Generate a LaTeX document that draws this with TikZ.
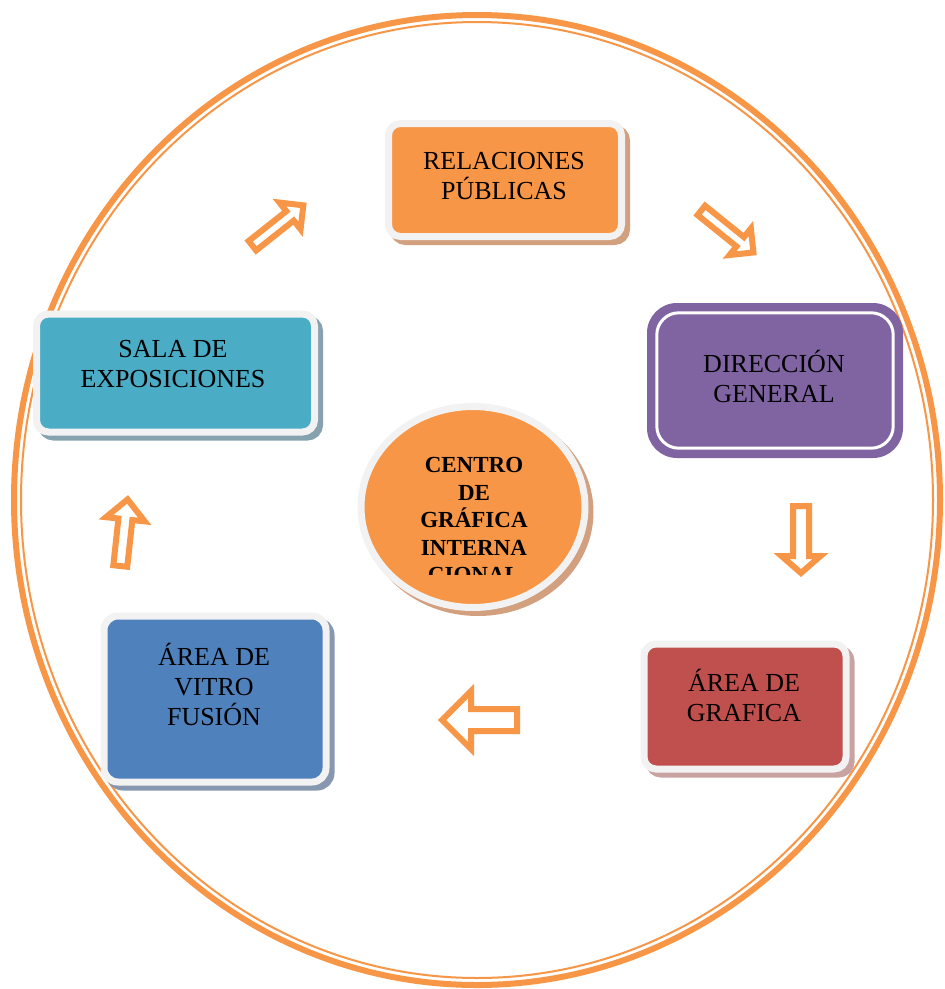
\documentclass[tikz,border=0pt]{standalone}
\usepackage{fontspec}
\setmainfont{Liberation Serif}
\usetikzlibrary{shapes.geometric}
\definecolor{orangeA}{HTML}{F79646}
\definecolor{purpleA}{HTML}{8064A2}
\definecolor{tealA}{HTML}{4BACC6}
\definecolor{blueA}{HTML}{4F81BD}
\definecolor{redA}{HTML}{C0504D}
\definecolor{frameG}{HTML}{F2F2F2}
\definecolor{shOrange}{HTML}{D2A07E}
\definecolor{shTeal}{HTML}{86A2AE}
\definecolor{shBlue}{HTML}{8797B0}
\definecolor{shRed}{HTML}{C9A3A2}
% outlined block arrow: x, y (tail centre), angle, length, shaft half-width, head half-width, head length
\newcommand{\blockarrow}[7]{%
  \draw[arrowline, shift={(#1,#2)}, rotate=#3]
    (0,#5) -- ({#4-#7},#5) -- ({#4-#7},#6) -- (#4,0) -- ({#4-#7},-#6)
    -- ({#4-#7},-#5) -- (0,-#5) -- cycle;}
\begin{document}
\begin{tikzpicture}[x=1pt,y=-1pt,
  ring/.style={draw=orangeA},
  card/.style={rectangle, rounded corners=#1, draw=frameG, line width=7pt, inner sep=0pt},
  shadowed/.style={preaction={draw=#1, fill=#1, transform canvas={xshift=5pt,yshift=-5pt}}},
  labeltext/.style={align=center, inner sep=0pt, font=\fontsize{26}{30}\selectfont},
  centretext/.style={align=center, inner sep=0pt, font=\bfseries\fontsize{23}{27.5}\selectfont},
  arrowline/.style={draw=orangeA, line width=6pt, fill=white, line join=miter}]
\useasboundingbox (0,0) rectangle (945,989);
\fill[white] (0,0) rectangle (945,989);

% outer double ring
\draw[ring, line width=6pt] (477,500) ellipse [x radius=463pt, y radius=485pt];
\draw[ring, line width=2pt] (477,500) ellipse [x radius=456pt, y radius=478pt];

% boxes
\node[card=12pt, fill=orangeA, shadowed=shOrange, minimum width=233pt, minimum height=113pt] (rp) at (505,180) {};
\node[labeltext] (rp-t) at (504,176) {RELACIONES\\PÚBLICAS};

\node[rectangle, rounded corners=30pt, fill=purpleA, minimum width=256pt, minimum height=155pt] (dg) at (775,380.5) {};
\draw[white, line width=3pt, rounded corners=22pt] ([shift={(10,10)}]dg.north west) rectangle ([shift={(-10,-10)}]dg.south east);
\node[labeltext] (dg-t) at (774,376) {DIRECCIÓN\\GENERAL};

\node[card=12pt, fill=tealA, shadowed=shTeal, minimum width=278pt, minimum height=118pt] (se) at (175.5,373) {};
\node[labeltext] (se-t) at (173,364.5) {SALA DE\\EXPOSICIONES};

\node[card=14pt, fill=blueA, shadowed=shBlue, minimum width=222pt, minimum height=166pt] (vf) at (215,699) {};
\node[labeltext] (vf-t) at (214,684.5) {ÁREA DE\\VITRO\\FUSIÓN};

\node[card=12pt, fill=redA, shadowed=shRed, minimum width=202pt, minimum height=125pt] (ag) at (745,706.5) {};
\node[labeltext] (ag-t) at (744,695) {ÁREA DE\\GRAFICA};

% centre disc
\node[ellipse, draw=frameG, line width=7pt, fill=orangeA, shadowed=shOrange, minimum width=224pt, minimum height=201pt] (cg) at (473,507) {};
\begin{scope}
  \clip (350,420) rectangle (600,574);
  \node[centretext] (cg-t) at (474,520) {CENTRO\\DE\\GRÁFICA\\INTERNA\\CIONAL};
\end{scope}

% flow arrows
\blockarrow{252.4}{245.7}{38.4}{65}{6}{17}{17}
\blockarrow{701.3}{210.4}{-38.9}{67}{6}{17}{17}
\blockarrow{801}{506}{-90}{67}{8}{19.5}{17}
\blockarrow{517}{720}{180}{75}{11}{29}{29}
\blockarrow{120.3}{566}{83.8}{67}{7}{19.5}{20}
\end{tikzpicture}
\end{document}
